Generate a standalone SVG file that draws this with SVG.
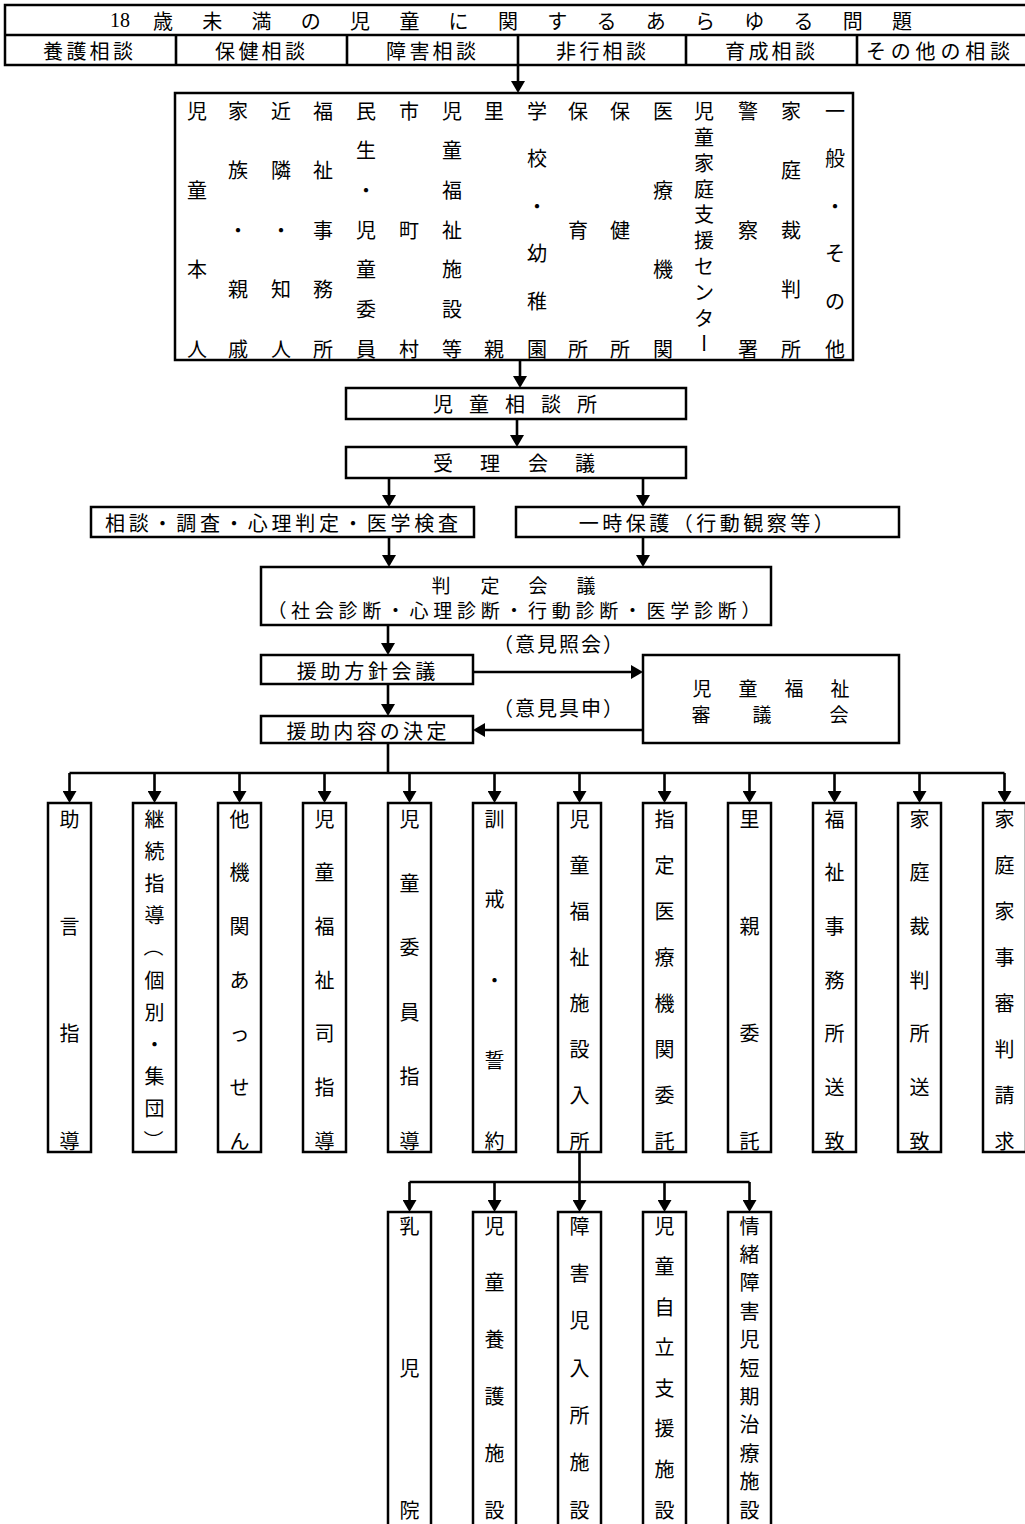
<svg xmlns="http://www.w3.org/2000/svg" width="1025" height="1524" viewBox="0 0 1025 1524">
<style>
.b{fill:#fff;stroke:#000;stroke-width:2.5}
.c{fill:none;stroke:#000;stroke-width:2.6}
.a{marker-end:url(#arr)}
text{font-family:"Noto Sans CJK JP",sans-serif;font-size:20px;fill:#000;text-anchor:middle;dominant-baseline:central}
.num{font-family:"Liberation Serif",serif}
.sm{font-size:19px}
</style>
<defs>
<marker id="arr" markerUnits="userSpaceOnUse" viewBox="0 0 12 14" refX="6" refY="7" markerWidth="12" markerHeight="14" orient="auto">
<path d="M0,0 L12,7 L0,14 Z" fill="#000"/>
</marker>
</defs>
<rect x="0" y="0" width="1025" height="1524" fill="#fff"/>

<g id="header">
<rect class="b" x="5" y="5" width="1022" height="60"/>
<path class="c" d="M5,35 H1027 M176,35 V65 M347,35 V65 M518,35 V65 M686,35 V65 M857,35 V65"/>
<text class="num" x="120" y="20">18</text>
<text x="163 212.3 261.5 310.8 360.1 409.4 458.6 507.9 557.2 606.4 655.7 705 754.2 803.5 852.8 902" y="20">歳未満の児童に関するあらゆる問題</text>
<text x="53 76.4 99.6 123" y="50">養護相談</text>
<text x="225 248.4 271.6 295" y="50">保健相談</text>
<text x="396 419.4 442.6 466" y="50">障害相談</text>
<text x="566 589.4 612.6 636" y="50">非行相談</text>
<text x="735 758.4 781.6 805" y="50">育成相談</text>
<text x="876 900.8 925.6 950.4 975.2 1000" y="50">その他の相談</text>
</g>

<g id="sources">
<rect class="b" x="175" y="93" width="678" height="267"/>
<text x="197 197 197 197" y="110 189.3 268.7 348">児童本人</text>
<text x="238 238 238 238 238" y="110 169.5 229 288.5 348">家族・親戚</text>
<text x="281 281 281 281 281" y="110 169.5 229 288.5 348">近隣・知人</text>
<text x="323 323 323 323 323" y="110 169.5 229 288.5 348">福祉事務所</text>
<text x="366 366 366 366 366 366 366" y="110 149.7 189.3 229 268.7 308.3 348">民生・児童委員</text>
<text x="409 409 409" y="110 229 348">市町村</text>
<text x="452 452 452 452 452 452 452" y="110 149.7 189.3 229 268.7 308.3 348">児童福祉施設等</text>
<text x="494 494" y="110 348">里親</text>
<text x="537 537 537 537 537 537" y="110 157.6 205.2 252.8 300.4 348">学校・幼稚園</text>
<text x="578 578 578" y="110 229 348">保育所</text>
<text x="620 620 620" y="110 229 348">保健所</text>
<text x="663 663 663 663" y="110 189.3 268.7 348">医療機関</text>
<text x="704 704 704 704 704 704 704 704 704" y="110 136 162 188 213 239 265 291 317">児童家庭支援センタ</text>
<text x="704" y="343" transform="rotate(90 704 343)">ー</text>
<text x="748 748 748" y="110 229 348">警察署</text>
<text x="791 791 791 791 791" y="110 169.5 229 288.5 348">家庭裁判所</text>
<text x="835 835 835 835 835 835" y="110 157.6 205.2 252.8 300.4 348">一般・その他</text>
</g>

<g id="jidou-soudanjo">
<rect class="b" x="346" y="388" width="340" height="31"/>
<text x="443 479 515 551 587" y="403.5">児童相談所</text>
</g>

<g id="juri-kaigi">
<rect class="b" x="346" y="447" width="340" height="31"/>
<text x="443 490 538 585" y="462.5">受理会議</text>
</g>

<g id="chousa">
<rect class="b" x="91" y="507" width="383" height="30"/>
<text x="114.9 138.7 162.5 186.3 210.1 233.9 257.7 281.5 305.3 329.1 352.9 376.7 400.5 424.3 448.1" y="522">相談・調査・心理判定・医学検査</text>
</g>

<g id="ichiji-hogo">
<rect class="b" x="516" y="507" width="383" height="30"/>
<text x="588.7 612.2 635.7 659.2 682.7 706.2 729.7 753.2 776.7 800.2 823.7" y="522">一時保護（行動観察等）</text>
</g>

<g id="hantei-kaigi">
<rect class="b" x="261" y="567" width="510" height="58"/>
<text class="sm" x="441 490 538 586" y="584">判定会議</text>
<text class="sm" x="276.9 300.6 324.3 348 371.7 395.4 419.1 442.8 466.5 490.2 513.9 537.6 561.3 585 608.7 632.4 656.1 679.8 703.5 727.2 750.9" y="609">（社会診断・心理診断・行動診断・医学診断）</text>
</g>

<g id="enjo-houshin">
<rect class="b" x="261" y="655" width="212" height="29"/>
<text x="306.8 330.5 354.2 377.9 401.6 425.3" y="670">援助方針会議</text>
</g>

<g id="enjo-naiyou">
<rect class="b" x="261" y="716" width="212" height="27"/>
<text x="296.6 319.9 343.2 366.5 389.8 413.1 436.4" y="730">援助内容の決定</text>
</g>

<g id="shingikai">
<rect class="b" x="643" y="655" width="256" height="88"/>
<text class="sm" x="702 748 794 840" y="687">児童福祉</text>
<text class="sm" x="701 762 839" y="713">審議会</text>
</g>

<g id="labels">
<text x="503 525 547 569 591 613" y="643">（意見照会）</text>
<text x="503 525 547 569 591 613" y="707">（意見具申）</text>
</g>

<g id="connectors">
<path class="c a" d="M518,65 V87"/>
<path class="c a" d="M520,360 V382"/>
<path class="c a" d="M517,419 V441"/>
<path class="c a" d="M389,478 V501"/>
<path class="c a" d="M643,478 V501"/>
<path class="c a" d="M389,537 V561"/>
<path class="c a" d="M643,537 V561"/>
<path class="c a" d="M388,625 V649"/>
<path class="c a" d="M473,672 H637"/>
<path class="c a" d="M388,684 V710"/>
<path class="c a" d="M643,730 H479"/>
<path class="c" d="M388,743 V773 M69.5,773 H1004.5"/>
<path class="c a" d="M69.5,773 V797"/>
<path class="c a" d="M154.5,773 V797"/>
<path class="c a" d="M239.5,773 V797"/>
<path class="c a" d="M324.5,773 V797"/>
<path class="c a" d="M409.5,773 V797"/>
<path class="c a" d="M494.5,773 V797"/>
<path class="c a" d="M579.5,773 V797"/>
<path class="c a" d="M664.5,773 V797"/>
<path class="c a" d="M749.5,773 V797"/>
<path class="c a" d="M834.5,773 V797"/>
<path class="c a" d="M919.5,773 V797"/>
<path class="c a" d="M1004.5,773 V797"/>
<path class="c" d="M579.5,1152 V1182 M409.5,1182 H749.5"/>
<path class="c a" d="M409.5,1182 V1206"/>
<path class="c a" d="M494.5,1182 V1206"/>
<path class="c a" d="M579.5,1182 V1206"/>
<path class="c a" d="M664.5,1182 V1206"/>
<path class="c a" d="M749.5,1182 V1206"/>
</g>

<g id="r1">
<rect class="b" x="48" y="803" width="43" height="349"/>
<text x="69.5 69.5 69.5 69.5" y="818 925.3 1032.7 1140">助言指導</text>
</g>
<g id="r2">
<rect class="b" x="133" y="803" width="43" height="349"/>
<text x="154.5 154.5 154.5 154.5" y="818 850.2 882.4 914.6">継続指導</text>
<text x="154.5" y="946.8" transform="rotate(90 154.5 946.8)">（</text>
<text x="154.5 154.5 154.5 154.5 154.5" y="979 1011.2 1043.4 1075.6 1107.8">個別・集団</text>
<text x="154.5" y="1140" transform="rotate(90 154.5 1140)">）</text>
</g>
<g id="r3">
<rect class="b" x="218" y="803" width="43" height="349"/>
<text x="239.5 239.5 239.5 239.5 239.5 239.5 239.5" y="818 871.7 925.3 979 1032.7 1086.3 1140">他機関あっせん</text>
</g>
<g id="r4">
<rect class="b" x="303" y="803" width="43" height="349"/>
<text x="324.5 324.5 324.5 324.5 324.5 324.5 324.5" y="818 871.7 925.3 979 1032.7 1086.3 1140">児童福祉司指導</text>
</g>
<g id="r5">
<rect class="b" x="388" y="803" width="43" height="349"/>
<text x="409.5 409.5 409.5 409.5 409.5 409.5" y="818 882.4 946.8 1011.2 1075.6 1140">児童委員指導</text>
</g>
<g id="r6">
<rect class="b" x="473" y="803" width="43" height="349"/>
<text x="494.5 494.5 494.5 494.5 494.5" y="818 898.5 979 1059.5 1140">訓戒・誓約</text>
</g>
<g id="r7">
<rect class="b" x="558" y="803" width="43" height="349"/>
<text x="579.5 579.5 579.5 579.5 579.5 579.5 579.5 579.5" y="818 864 910 956 1002 1048 1094 1140">児童福祉施設入所</text>
</g>
<g id="r8">
<rect class="b" x="643" y="803" width="43" height="349"/>
<text x="664.5 664.5 664.5 664.5 664.5 664.5 664.5 664.5" y="818 864 910 956 1002 1048 1094 1140">指定医療機関委託</text>
</g>
<g id="r9">
<rect class="b" x="728" y="803" width="43" height="349"/>
<text x="749.5 749.5 749.5 749.5" y="818 925.3 1032.7 1140">里親委託</text>
</g>
<g id="r10">
<rect class="b" x="813" y="803" width="43" height="349"/>
<text x="834.5 834.5 834.5 834.5 834.5 834.5 834.5" y="818 871.7 925.3 979 1032.7 1086.3 1140">福祉事務所送致</text>
</g>
<g id="r11">
<rect class="b" x="898" y="803" width="43" height="349"/>
<text x="919.5 919.5 919.5 919.5 919.5 919.5 919.5" y="818 871.7 925.3 979 1032.7 1086.3 1140">家庭裁判所送致</text>
</g>
<g id="r12">
<rect class="b" x="983" y="803" width="43" height="349"/>
<text x="1004.5 1004.5 1004.5 1004.5 1004.5 1004.5 1004.5 1004.5" y="818 864 910 956 1002 1048 1094 1140">家庭家事審判請求</text>
</g>

<g id="s1">
<rect class="b" x="388" y="1212" width="43" height="320"/>
<text x="409.5 409.5 409.5" y="1225 1367 1509">乳児院</text>
</g>
<g id="s2">
<rect class="b" x="473" y="1212" width="43" height="320"/>
<text x="494.5 494.5 494.5 494.5 494.5 494.5" y="1225 1281.8 1338.6 1395.4 1452.2 1509">児童養護施設</text>
</g>
<g id="s3">
<rect class="b" x="558" y="1212" width="43" height="320"/>
<text x="579.5 579.5 579.5 579.5 579.5 579.5 579.5" y="1225 1272.3 1319.7 1367 1414.3 1461.7 1509">障害児入所施設</text>
</g>
<g id="s4">
<rect class="b" x="643" y="1212" width="43" height="320"/>
<text x="664.5 664.5 664.5 664.5 664.5 664.5 664.5 664.5" y="1225 1265.6 1306.1 1346.7 1387.3 1427.9 1468.4 1509">児童自立支援施設</text>
</g>
<g id="s5">
<rect class="b" x="728" y="1212" width="43" height="320"/>
<text x="749.5 749.5 749.5 749.5 749.5 749.5 749.5 749.5 749.5 749.5 749.5" y="1225 1253.4 1281.8 1310.2 1338.6 1367 1395.4 1423.8 1452.2 1480.6 1509">情緒障害児短期治療施設</text>
</g>
</svg>
